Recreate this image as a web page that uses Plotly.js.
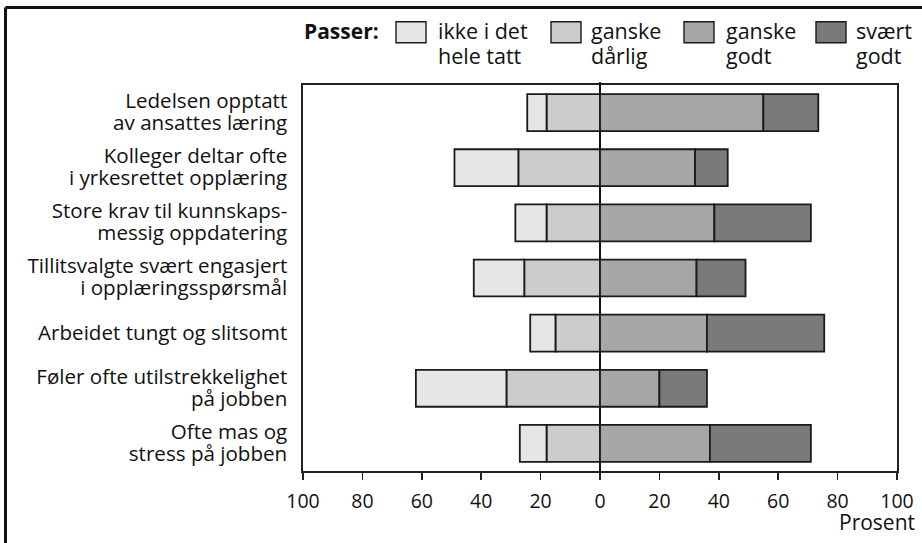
<!DOCTYPE html>
<html>
<head>
<meta charset="utf-8">
<script src="https://cdn.plot.ly/plotly-3.0.1.min.js"></script>
<style>
  html, body { margin: 0; padding: 0; background: #fff; }
  #chart { width: 922px; height: 543px; }
</style>
</head>
<body>
<div id="chart"></div>
<script>
// ---- Data ----
const categories = [
  "Ledelsen opptatt<br>av ansattes læring",
  "Kolleger deltar ofte<br>i yrkesrettet opplæring",
  "Store krav til kunnskaps-<br>messig oppdatering",
  "Tillitsvalgte svært engasjert<br>i opplæringsspørsmål",
  "Arbeidet tungt og slitsomt",
  "Føler ofte utilstrekkelighet<br>på jobben",
  "Ofte mas og<br>stress på jobben"
];
const seriesNames = ["ikke i det<br>hele tatt", "ganske<br>dårlig", "ganske<br>godt", "svært<br>godt"];
const ikkeIDetHeleTatt = [6.5, 21.5, 10.5, 17, 8.5, 30.5, 9];
const ganskeDarlig     = [18, 27.5, 18, 25.5, 15, 31.5, 18];
const ganskeGodt       = [55, 32, 38.5, 32.5, 36, 20, 37];
const svaertGodt       = [18.5, 11, 32.5, 16.5, 39.5, 16, 34];
const tickValues = [-100, -80, -60, -40, -20, 0, 20, 40, 60, 80, 100];
const tickLabels = ["100", "80", "60", "40", "20", "0", "20", "40", "60", "80", "100"];
const legendTitle = "Passer:";
const axisLabel = "Prosent";

// ---- Style ----
const colors = ["#e6e6e6", "#cccccc", "#a6a6a6", "#7a7a7a"];
const FONT = "Open Sans, Noto Sans, sans-serif";
const TXT = "#111";
const W = 922, H = 543;
const M = { l: 303, r: 25, t: 85, b: 72 };
const PW = W - M.l - M.r, PH = H - M.t - M.b;
const px = v => (v - M.l) / PW;
const py = v => (H - M.b - v) / PH;

function barTrace(name, vals, color, sign) {
  return {
    type: "bar", orientation: "h", name: name,
    y: categories, x: vals.map(v => sign * v),
    marker: { color: color, line: { color: "#1a1a1a", width: 1.8 } },
    width: 0.67, showlegend: false,
    customdata: vals,
    hovertemplate: "%{y}: %{customdata}%<extra></extra>"
  };
}

const data = [
  barTrace(seriesNames[1], ganskeDarlig, colors[1], -1),
  barTrace(seriesNames[0], ikkeIDetHeleTatt, colors[0], -1),
  barTrace(seriesNames[2], ganskeGodt, colors[2], 1),
  barTrace(seriesNames[3], svaertGodt, colors[3], 1)
];

// Legend drawn with shapes + annotations
const boxX = [396, 551, 684, 816];
const textX = [437, 590, 725, 855];
const legendShapes = boxX.map((x, i) => ({
  type: "rect", xref: "paper", yref: "paper",
  x0: px(x), x1: px(x + 30), y0: py(42.7), y1: py(21.7),
  fillcolor: colors[i], line: { color: "#1a1a1a", width: 1.4 }
}));
const legendAnns = textX.map((x, i) => ({
  xref: "paper", yref: "paper", x: px(x - 1), y: py(14),
  xanchor: "left", yanchor: "top", align: "left",
  text: seriesNames[i], showarrow: false,
  font: { family: FONT, size: 21.5, color: TXT }
}));

const layout = {
  width: W, height: H,
  margin: M,
  paper_bgcolor: "#fff", plot_bgcolor: "#fff",
  barmode: "relative",
  font: { family: FONT, size: 20, color: TXT },
  xaxis: {
    range: [-100, 100], tickvals: tickValues, ticktext: tickLabels,
    showgrid: false, zeroline: true, zerolinecolor: "#111", zerolinewidth: 1.8,
    showline: true, linecolor: "#222", linewidth: 1.6, mirror: true,
    ticks: "outside", ticklen: 7, tickwidth: 1.6, tickcolor: "#222",
    ticklabelstandoff: 5,
    tickfont: { family: FONT, size: 19.5, color: TXT }, fixedrange: true
  },
  yaxis: {
    type: "category", autorange: false, range: [6.5, -0.5],
    showgrid: false, zeroline: false,
    showline: true, linecolor: "#222", linewidth: 1.6, mirror: true,
    ticks: "", ticklabelstandoff: 10,
    tickfont: { family: FONT, size: 20.6, color: TXT }, fixedrange: true
  },
  shapes: [
    { type: "line", xref: "paper", yref: "paper", x0: px(5.5), x1: px(W + 10), y0: py(7.5), y1: py(7.5),
      line: { color: "#111", width: 3 } },
    { type: "line", xref: "paper", yref: "paper", x0: px(5.5), x1: px(5.5), y0: py(7.5), y1: py(H + 10),
      line: { color: "#111", width: 3 } },
    // zero line continues slightly above the plot frame, as in the reference
    { type: "line", xref: "x", yref: "paper", x0: 0, x1: 0, y0: 1, y1: py(82),
      line: { color: "#111", width: 1.8 } }
  ].concat(legendShapes),
  annotations: [
    { xref: "paper", yref: "paper", x: px(302), y: py(31), xanchor: "left", yanchor: "middle",
      text: "<b>" + legendTitle + "</b>", showarrow: false,
      font: { family: FONT, size: 21, color: TXT } },
    { xref: "paper", yref: "paper", x: px(917), y: py(522), xanchor: "right", yanchor: "middle",
      text: axisLabel, showarrow: false,
      font: { family: FONT, size: 21, color: TXT } }
  ].concat(legendAnns)
};

// tighten line spacing of multi-line texts (reference uses tighter leading than 1.3em)
function tightenLines(selector, k, keepCentered) {
  document.querySelectorAll(selector).forEach(t => {
    const lines = t.querySelectorAll("tspan.line");
    const n = lines.length;
    if (n < 2) return;
    lines.forEach((ln, i) => {
      if (i === 0) {
        const base = parseFloat(ln.getAttribute("dy") || "0") || 0;
        const extra = keepCentered ? (1.3 - k) * (n - 1) / 2 : 0;
        ln.setAttribute("dy", (base + extra) + "em");
      } else {
        ln.setAttribute("dy", k + "em");
      }
    });
  });
}

Plotly.newPlot("chart", data, layout, { displayModeBar: false, staticPlot: true }).then(() => {
  tightenLines(".ytick text", 1.14, true);
  tightenLines(".annotation-text", 1.18, false);
});
</script>
</body>
</html>
